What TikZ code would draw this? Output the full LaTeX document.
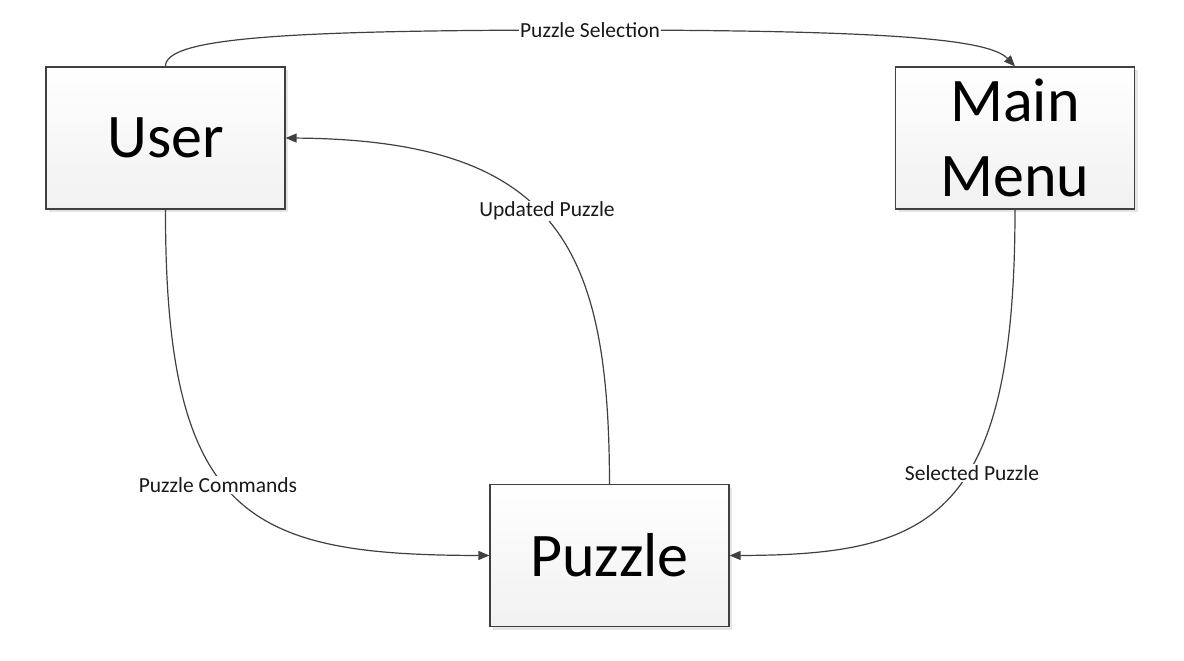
\documentclass[tikz,border=0pt]{standalone}
\usepackage{fontspec}
\setmainfont{Carlito}
\usetikzlibrary{arrows.meta,shadows}
\definecolor{edge}{HTML}{404040}
\definecolor{boxbot}{HTML}{F1F1F1}
\tikzset{
  procbox/.style={draw=edge, line width=1.2pt, top color=white, bottom color=boxbot,
    minimum width=239pt, minimum height=142pt, inner sep=0pt, align=center,
    font=\fontsize{62}{75}\selectfont,
    drop shadow={shadow xshift=3pt, shadow yshift=-3pt, fill=black!10, opacity=1}},
  flow/.style={draw=edge, line width=1.2pt, -{Triangle[length=11pt,width=9pt]}},
  flowlabel/.style={fill=white, inner sep=1pt, font=\fontsize{21.5}{24}\selectfont, text=black!90}
}
\begin{document}
\begin{tikzpicture}[x=1pt,y=-1pt]
\useasboundingbox (0,0) rectangle (1184,661);
\node[procbox] (user) at (165.5,138) {User};
\node[procbox] (menu) at (1015,138) {Main\\Menu};
\node[procbox] (puzzle) at (609.5,555.5) {Puzzle};

\draw[flow] (user.north) .. controls (165,38) and (280,30) .. (590,30)
  .. controls (900,30) and (990,40) .. (menu.north);
\node[flowlabel] (lsel) at (590,30) {Puzzle Selection};

\draw[flow] (puzzle.north) .. controls (609,250) and (560,140) .. (user.east);
\node[flowlabel] (lupd) at (547,211) {Updated Puzzle};

\draw[flow] (user.south) .. controls (165,520) and (250,555) .. (puzzle.west);
\node[flowlabel] (lcmd) at (218,485) {Puzzle Commands};

\draw[flow] (menu.south) .. controls (1015,520) and (930,555) .. (puzzle.east);
\node[flowlabel] (lsp) at (972,473) {Selected Puzzle};
\end{tikzpicture}
\end{document}
